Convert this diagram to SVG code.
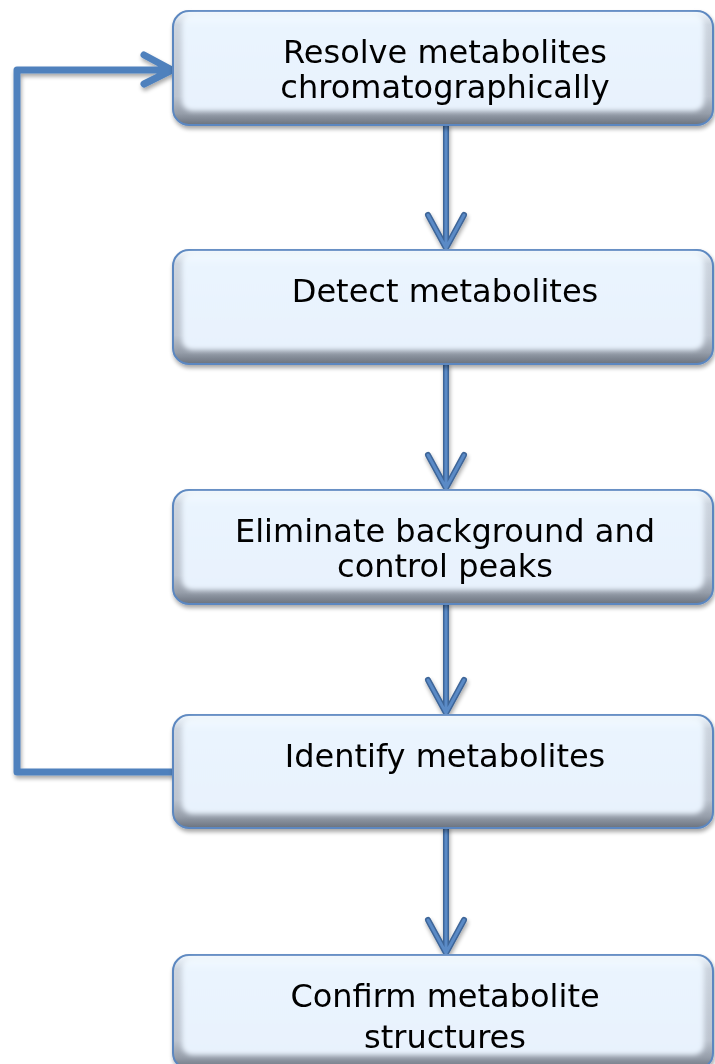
<svg xmlns="http://www.w3.org/2000/svg" width="715" height="1064" viewBox="0 0 715 1064">
<defs>
<linearGradient id="bev" x1="0" y1="0" x2="0" y2="1">
<stop offset="0" stop-color="#F2F9FF"/>
<stop offset="0.12" stop-color="#CCD4DE"/>
<stop offset="0.75" stop-color="#BCC4CF"/>
<stop offset="0.9" stop-color="#959DA9"/>
<stop offset="1" stop-color="#6A727E"/>
</linearGradient>
<linearGradient id="face" x1="0" y1="0" x2="0" y2="1">
<stop offset="0" stop-color="#F4FBFF"/>
<stop offset="0.12" stop-color="#EAF4FE"/>
<stop offset="1" stop-color="#E8F2FD"/>
</linearGradient>
<filter id="soft" x="-5%" y="-10%" width="110%" height="120%">
<feGaussianBlur stdDeviation="2.5"/>
</filter>
<filter id="shadow" x="-5%" y="-10%" width="115%" height="125%">
<feGaussianBlur in="SourceAlpha" stdDeviation="2"/>
<feOffset dx="1" dy="3" result="b"/>
<feComponentTransfer><feFuncA type="linear" slope="0.35"/></feComponentTransfer>
<feMerge><feMergeNode/><feMergeNode in="SourceGraphic"/></feMerge>
</filter>
<style>
.outer{fill:url(#bev);stroke:#5B87C0;stroke-width:2}
.inner{fill:url(#face);filter:url(#soft)}
.lbl{font-family:"DejaVu Sans",Verdana,sans-serif;font-size:32px;fill:#000;text-anchor:middle}
.down{fill:none;stroke:#3E6598;stroke-width:6;stroke-linecap:round;stroke-linejoin:round}
.downi{fill:none;stroke:#5A8AC6;stroke-width:3;stroke-linecap:round;stroke-linejoin:round}
.loop{fill:none;stroke:#4F81BD;stroke-width:7;stroke-linecap:round;stroke-linejoin:round}
</style>
</defs>
<g id="connectors" filter="url(#shadow)">
<g id="c1"><path class="down" d="M446 126V248M428 215L446 248L464 215"/><path class="downi" d="M446 126V248M428 215L446 248L464 215"/></g>
<g id="c2"><path class="down" d="M446 365V488M428 455L446 488L464 455"/><path class="downi" d="M446 365V488M428 455L446 488L464 455"/></g>
<g id="c3"><path class="down" d="M446 605V713M428 680L446 713L464 680"/><path class="downi" d="M446 605V713M428 680L446 713L464 680"/></g>
<g id="c4"><path class="down" d="M446 828V953M428 920L446 953L464 920"/><path class="downi" d="M446 828V953M428 920L446 953L464 920"/></g>
<g id="loop"><path class="loop" d="M173 772H17V70H172M144 55L172 70L144 84"/></g>
</g>
<g id="n1" filter="url(#shadow)">
<rect class="outer" x="173" y="11" width="540" height="114" rx="16"/>
<rect class="inner" x="182" y="14" width="522" height="97" rx="10"/>
<text class="lbl" x="445" y="63">Resolve metabolites</text>
<text class="lbl" x="445" y="98">chromatographically</text>
</g>
<g id="n2" filter="url(#shadow)">
<rect class="outer" x="173" y="250" width="540" height="114" rx="16"/>
<rect class="inner" x="182" y="253" width="522" height="97" rx="10"/>
<text class="lbl" x="445" y="302">Detect metabolites</text>
</g>
<g id="n3" filter="url(#shadow)">
<rect class="outer" x="173" y="490" width="540" height="114" rx="16"/>
<rect class="inner" x="182" y="493" width="522" height="97" rx="10"/>
<text class="lbl" x="445" y="542">Eliminate background and</text>
<text class="lbl" x="445" y="577">control peaks</text>
</g>
<g id="n4" filter="url(#shadow)">
<rect class="outer" x="173" y="715" width="540" height="113" rx="16"/>
<rect class="inner" x="182" y="718" width="522" height="96" rx="10"/>
<text class="lbl" x="445" y="767">Identify metabolites</text>
</g>
<g id="n5" filter="url(#shadow)">
<rect class="outer" x="173" y="955" width="540" height="114" rx="16"/>
<rect class="inner" x="182" y="958" width="522" height="97" rx="10"/>
<text class="lbl" x="445" y="1007">Confirm metabolite</text>
<text class="lbl" x="445" y="1048">structures</text>
</g>
</svg>
